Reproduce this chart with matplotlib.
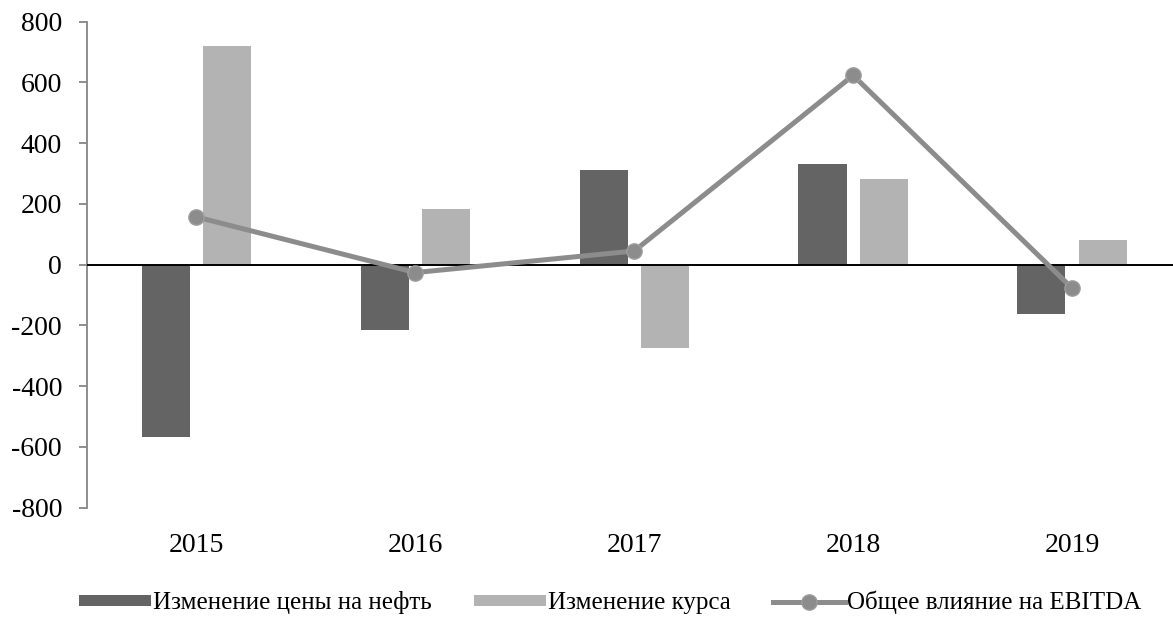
import numpy as np
import matplotlib.pyplot as plt

# годы и факторы влияния на EBITDA
years = ['2015', '2016', '2017', '2018', '2019']
oil_price = [-566, -214, 312, 331, -161]
fx_rate = [720, 182, -275, 283, 82]
ebitda_total = [157, -26, 45, 623, -77]

plt.rcParams['font.family'] = ['Liberation Serif', 'DejaVu Serif']
plt.rcParams['axes.unicode_minus'] = False

fig = plt.figure(figsize=(11.73, 6.18), dpi=100)
ax = fig.add_axes([0.0742, 0.1785, 0.933, 0.7865])

x = np.arange(len(years))
w = 0.22
b1 = ax.bar(x - 0.14, oil_price, w, color='#646464', label='Изменение цены на нефть', zorder=2)
b2 = ax.bar(x + 0.14, fx_rate, w, color='#b3b3b3', label='Изменение курса', zorder=2)
ln, = ax.plot(x, ebitda_total, color='#8c8c8c', lw=3.6, marker='o', ms=11,
              mfc='#8c8c8c', mec='#9c9c9c', mew=1, label='Общее влияние на EBITDA', zorder=4)

ax.axhline(0, color='black', lw=1.4, zorder=3)

ax.set_xlim(-0.5, 4.5)
ax.set_ylim(-800, 800)
ax.set_yticks(range(-800, 801, 200))
ax.set_xticks(x)
ax.set_xticklabels(years)

for s in ['top', 'right', 'bottom']:
    ax.spines[s].set_visible(False)
ax.spines['left'].set_color('#868686')
ax.spines['left'].set_linewidth(1.3)
ax.tick_params(axis='y', length=6, width=1.3, color='#868686', labelsize=20, pad=12)
ax.tick_params(axis='x', length=0, labelsize=20, pad=18)

fig.legend(handles=[b1, b2, ln], loc='lower center', bbox_to_anchor=(0.52, -0.03),
           ncol=3, frameon=False, fontsize=18, handlelength=2.9, handleheight=0.3,
           handletextpad=0.05, columnspacing=1.7)

fig.savefig('out.png', dpi=100)
